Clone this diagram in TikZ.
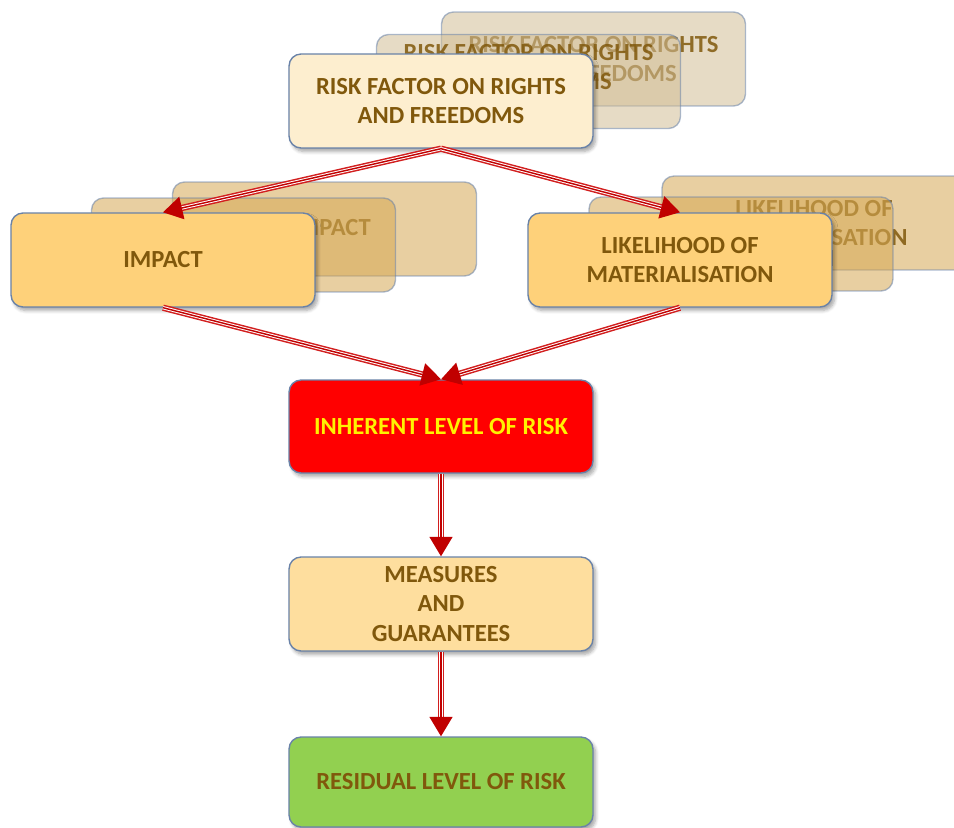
\documentclass[tikz,border=0pt]{standalone}
\usepackage{fontspec}
\setmainfont{Carlito}
\usetikzlibrary{arrows.meta,shadows.blur}

\definecolor{txtbrown}{RGB}{128,88,12}
\definecolor{boxline}{RGB}{105,130,168}
\definecolor{riskfill}{RGB}{253,238,207}
\definecolor{peach}{RGB}{254,209,122}
\definecolor{measfill}{RGB}{254,222,158}
\definecolor{resfill}{RGB}{146,208,80}
\definecolor{ghosttan}{RGB}{210,190,150}
\definecolor{ghostorange}{RGB}{214,168,84}
\definecolor{linkred}{RGB}{210,30,30}
\definecolor{linkdark}{RGB}{192,0,0}

\newcommand{\boxfont}{\bfseries\fontsize{14}{17}\selectfont}

\tikzset{
  x=0.02cm, y=-0.02cm,
  card/.style={rounded corners=0.24cm, draw=boxline, line width=0.8pt,
    minimum width=6.08cm, minimum height=1.88cm, inner sep=0pt,
    align=center, text=txtbrown, font=\boxfont,
    blur shadow={shadow xshift=1.5pt, shadow yshift=-2pt, shadow opacity=35, shadow blur steps=6}},
  ghost/.style={rounded corners=0.24cm, draw=boxline, line width=0.8pt,
    minimum width=6.08cm, minimum height=1.88cm, inner sep=0pt,
    fill=#1, fill opacity=0.55, draw opacity=0.55},
  ghosttext/.style={align=center, text=txtbrown, font=\boxfont, inner sep=0pt, text opacity=0.85},
  link/.style={draw=linkred, line width=3.6pt, shorten >=9pt,
    postaction={draw=white, line width=1.9pt, shorten >=9pt},
    postaction={draw=linkdark, line width=0.8pt, shorten >=0pt,
      -{Triangle[length=11pt,width=13pt]}}},
}

\begin{document}
\begin{tikzpicture}
\useasboundingbox (0,0) rectangle (954,828);
\clip (0,0) rectangle (954,828);

% back copies of the first card
\node[ghost=ghosttan] (riskB) at (593.5,59) {};
\node[ghosttext] (riskBt) at (593.5,59) {RISK FACTOR ON RIGHTS\\AND FREEDOMS};
\node[ghost=ghosttan] (riskA) at (528.5,81.5) {};
\node[ghosttext] (riskAt) at (528.5,67) {RISK FACTOR ON RIGHTS\\AND FREEDOMS};

% back copies of the impact card
\node[ghost=ghostorange] (impB) at (324.5,229) {};
\node[ghosttext] (impBt) at (331,228) {IMPACT};
\node[ghost=ghostorange] (impA) at (243.5,245) {};
\node[ghosttext] (impAt) at (243.5,245) {IMPACT};

% back copies of the likelihood card
\node[ghost=ghostorange] (likB) at (814,223) {};
\node[ghosttext] (likBt) at (814,223) {LIKELIHOOD OF\\MATERIALISATION};
\node[ghost=ghostorange] (likA) at (741,244) {};
\node[ghosttext] (likAt) at (741,244) {LIKELIHOOD OF\\MATERIALISATION};

% main flow
\node[card, fill=riskfill] (risk) at (441,101) {RISK FACTOR ON RIGHTS\\AND FREEDOMS};
\node[card, fill=peach] (imp) at (163,260) {IMPACT};
\node[card, fill=peach] (lik) at (680,260) {LIKELIHOOD OF\\MATERIALISATION};
\node[card, fill=red, text=yellow, minimum height=1.86cm] (inh) at (441,426.5) {INHERENT LEVEL OF RISK};
\node[card, fill=measfill] (mea) at (441,604) {MEASURES\\AND\\GUARANTEES};
\node[card, fill=resfill, minimum height=1.8cm] (res) at (441,782) {RESIDUAL LEVEL OF RISK};

% connectors
\draw[link] (risk.south) -- (imp.north);
\draw[link] (risk.south) -- (lik.north);
\draw[link] (imp.south) -- (inh.north);
\draw[link] (lik.south) -- (inh.north);
\draw[link] (inh.south) -- (mea.north);
\draw[link] (mea.south) -- (res.north);
\end{tikzpicture}
\end{document}
